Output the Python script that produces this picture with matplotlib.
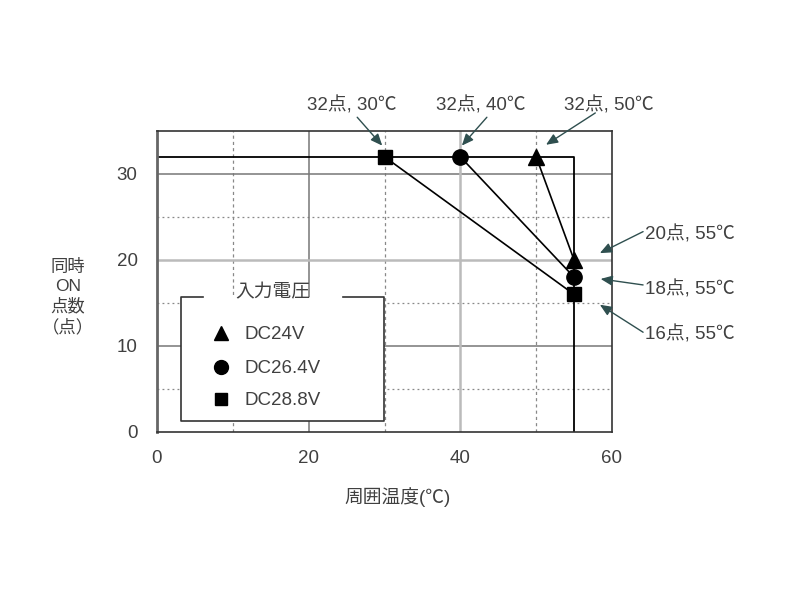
import matplotlib
matplotlib.use("Agg")
import matplotlib.pyplot as plt
from matplotlib.lines import Line2D
from matplotlib.patches import Rectangle

plt.rcParams['font.family'] = ['Liberation Sans', 'Noto Sans CJK JP', 'DejaVu Sans']

# ---- data ----
series_names = ["DC24V", "DC26.4V", "DC28.8V"]
series_markers = ["^", "o", "s"]
temps_start = [50, 40, 30]          # temperature where derating starts (32 points)
points_start = [32, 32, 32]
temps_end = [55, 55, 55]
points_end = [20, 18, 16]

limit_points = 32
limit_temp = 55

x_ticks = [0, 20, 40, 60]
y_ticks = [0, 10, 20, 30]
x_minor = [10, 30, 50]
y_minor = [5, 15, 25]
x_major_grid = [20]
y_major_grid = [10, 30]
x_light = [40]
y_light = [20]

top_labels = ["32点, 30℃", "32点, 40℃", "32点, 50℃"]
right_labels = ["20点, 55℃", "18点, 55℃", "16点, 55℃"]

TXT = '#404040'

fig = plt.figure(figsize=(8, 6), dpi=100)
ax = fig.add_axes([157/800, 1-432/600, 455/800, 301/600])
ax.set_xlim(0, 60)
ax.set_ylim(0, 35)

# grid
for v in y_minor:
    ax.axhline(v, color='#888888', lw=0.9, ls=(0, (1.5, 2.5)), zorder=1)
for v in x_minor:
    ax.axvline(v, color='#888888', lw=0.9, ls=(0, (2.5, 2.5)), zorder=1)
for v in y_major_grid:
    ax.axhline(v, color='#777777', lw=1.1, zorder=1)
for v in x_major_grid:
    ax.axvline(v, color='#777777', lw=1.1, zorder=1)
for v in y_light:
    ax.axhline(v, color='#bbbbbb', lw=1.8, zorder=1)
for v in x_light:
    ax.axvline(v, color='#bbbbbb', lw=1.8, zorder=1)

# limit lines
ax.plot([0, limit_temp, limit_temp], [limit_points, limit_points, 0],
        color='black', lw=1.3, zorder=2)

# series
for name, m, x0, y0, x1, y1 in zip(series_names, series_markers,
                                    temps_start, points_start, temps_end, points_end):
    ms = 11 if m != 's' else 10
    ax.plot([x0, x1], [y0, y1], color='black', lw=1.2, zorder=3)
    ax.plot([x0, x1], [y0, y1], ls='none', marker=m, ms=ms, color='black', zorder=4,
            clip_on=False)

# spines
for s in ['top', 'right', 'bottom']:
    ax.spines[s].set_color('#333333')
    ax.spines[s].set_linewidth(1.2)
ax.spines['left'].set_color('#666666')
ax.spines['left'].set_linewidth(2)

ax.set_xticks(x_ticks)
ax.set_yticks(y_ticks)
ax.tick_params(length=0, labelsize=13.5, colors=TXT)
ax.tick_params(axis='y', pad=14)
ax.tick_params(axis='x', pad=13)

# axis labels
fig.text(398/800, 1-497/600, "周囲温度(℃)", ha='center', va='center', fontsize=13.5, color=TXT)
fig.text(68/800, 1-297/600, "同時\nON\n点数\n（点）", ha='center', va='center', fontsize=12.5,
         color=TXT, linespacing=1.3)

# annotations
arrow_kw = dict(arrowstyle='-|>,head_length=0.7,head_width=0.3', color='#2f4f4f', lw=1.0,
                shrinkA=0, shrinkB=0)
top_text_x = [25.7, 42.7, 59.6]
top_text_y = 38.0
top_tail = [(26.4, 36.6), (43.5, 36.6), (57.8, 37.1)]
top_head = [(29.7, 33.3), (40.2, 33.3), (51.3, 33.4)]
for lab, tx, tail, head in zip(top_labels, top_text_x, top_tail, top_head):
    ax.text(tx, top_text_y, lab, ha='center', va='center', fontsize=13.5, color=TXT,
            clip_on=False)
    ax.annotate('', xy=head, xytext=tail, arrowprops=arrow_kw, annotation_clip=False)

right_text_y = [23.0, 16.6, 11.3]
right_tail = [(64.1, 23.3), (64.1, 17.1), (64.1, 11.6)]
right_head = [(58.4, 20.8), (58.5, 17.8), (58.4, 14.8)]
for lab, ty, tail, head in zip(right_labels, right_text_y, right_tail, right_head):
    ax.text(64.3, ty, lab, ha='left', va='center', fontsize=13.5, color=TXT,
            clip_on=False)
    ax.annotate('', xy=head, xytext=tail, arrowprops=arrow_kw, annotation_clip=False)

# legend box (manual, with title breaking the top border)
T = ax.transAxes
lx0, lx1, ly0, ly1 = 0.0527, 0.499, 0.0365, 0.4485
gap0, gap1 = 0.101, 0.409
frame_kw = dict(color='#333333', lw=1.2, transform=T, zorder=5)
ax.add_line(Line2D([gap0, lx0, lx0, lx1, lx1, gap1], [ly1, ly1, ly0, ly0, ly1, ly1], **frame_kw))
ax.add_patch(Rectangle((lx0, ly0), lx1-lx0, ly1-ly0, transform=T, facecolor='white',
                       edgecolor='none', zorder=4.5))
ax.text(0.255, 0.462, "入力電圧", transform=T, ha='center', va='center', fontsize=13.5,
        color=TXT, zorder=6)
rows_y = [0.329, 0.216, 0.1096]
for name, m, ry in zip(series_names, series_markers, rows_y):
    ms = 10 if m != 's' else 9
    ax.add_line(Line2D([0.1407], [ry], marker=m, ms=ms, color='black', ls='none',
                       transform=T, zorder=6))
    ax.text(0.193, ry - 0.004, name, transform=T, ha='left', va='center', fontsize=13.5,
            color=TXT, zorder=6)

fig.savefig("out.png", dpi=100)
